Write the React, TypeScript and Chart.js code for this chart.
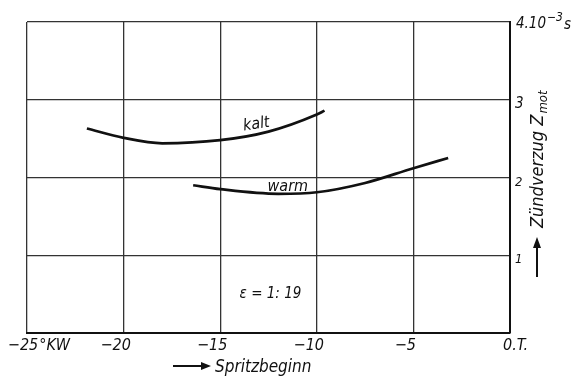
import React, { useEffect, useRef } from "react";
import { Chart, registerables } from "chart.js";

Chart.register(...registerables);

// Injection timing (°KW before TDC) and ignition delay (10^-3 s)
const kaltX = [-21.9, -20, -18, -15, -12.5, -10, -9.6];
const kaltY = [2.63, 2.51, 2.44, 2.48, 2.59, 2.81, 2.86];
const warmX = [-16.4, -15, -12, -10, -7.5, -5, -3.2];
const warmY = [1.9, 1.85, 1.79, 1.81, 1.93, 2.12, 2.25];

const xTicks = [-25, -20, -15, -10, -5, 0];
const yTicks = [1, 2, 3, 4];
const xTickLabels = ["−25", "−20", "−15", "−10", "−5", "0.T."];
const yTickLabels = ["1", "2", "3", "4.10"];

const curveLabels = [
  { text: "kalt", x: -13.1, y: 2.63, angle: -8 },
  { text: "warm", x: -11.5, y: 1.82, angle: 0 },
];

const FONT = '"DejaVu Sans Condensed", "Liberation Sans Narrow", sans-serif';

const textPlugin = {
  id: "annotations",
  afterDraw(chart: any) {
    const ctx = chart.ctx as CanvasRenderingContext2D;
    const xs = chart.scales.x;
    const ys = chart.scales.y;
    ctx.save();
    ctx.fillStyle = "#111";
    ctx.textBaseline = "alphabetic";

    // x tick labels
    ctx.font = `italic 16px ${FONT}`;
    xTicks.forEach((v, i) => {
      const px = xs.getPixelForValue(v);
      const base = ys.bottom + 17;
      if (i === 0) {
        ctx.textAlign = "center";
        ctx.fillText(xTickLabels[i], px - 4, base);
        const w = ctx.measureText(xTickLabels[i]).width;
        ctx.textAlign = "left";
        ctx.fillText("°KW", px - 4 + w / 2 + 1, base);
      } else if (i === xTicks.length - 1) {
        ctx.textAlign = "left";
        ctx.fillText(xTickLabels[i], px - 7, base);
      } else {
        ctx.textAlign = "center";
        ctx.fillText(xTickLabels[i], px - 8, base);
      }
    });

    // y tick labels on the right axis
    const rx = xs.right + 5;
    yTicks.forEach((v, i) => {
      const py = ys.getPixelForValue(v);
      ctx.textAlign = "left";
      if (i === yTicks.length - 1) {
        ctx.font = `italic 15px ${FONT}`;
        ctx.fillText(yTickLabels[i], rx + 1, py + 6);
        const w = ctx.measureText(yTickLabels[i]).width;
        ctx.font = `italic 12px ${FONT}`;
        ctx.fillText("−3", rx + 1 + w + 1, py - 1);
        const w2 = ctx.measureText("−3").width;
        ctx.font = `italic 15px ${FONT}`;
        ctx.fillText("s", rx + 1 + w + w2 + 2, py + 7);
      } else {
        ctx.font = `italic ${i === 2 ? 15 : 13}px ${FONT}`;
        ctx.fillText(yTickLabels[i], rx, py + 8);
      }
    });

    // curve names
    ctx.font = `italic 16px ${FONT}`;
    ctx.textAlign = "center";
    curveLabels.forEach((l) => {
      ctx.save();
      ctx.translate(xs.getPixelForValue(l.x), ys.getPixelForValue(l.y));
      ctx.rotate((l.angle * Math.PI) / 180);
      ctx.fillText(l.text, 0, 0);
      ctx.restore();
    });

    // compression ratio note
    ctx.font = `italic 15px ${FONT}`;
    ctx.fillText("ε = 1: 19", xs.getPixelForValue(-12.4), ys.getPixelForValue(0.45));

    // x axis title with arrow
    const tx = 215;
    const ty = 372;
    ctx.font = `italic 17px ${FONT}`;
    ctx.textAlign = "left";
    ctx.fillText("Spritzbeginn", tx, ty);
    ctx.lineWidth = 2;
    ctx.strokeStyle = "#111";
    ctx.beginPath();
    ctx.moveTo(173, ty - 6);
    ctx.lineTo(204, ty - 6);
    ctx.stroke();
    ctx.beginPath();
    ctx.moveTo(211, ty - 6);
    ctx.lineTo(201, ty - 10);
    ctx.lineTo(201, ty - 2);
    ctx.closePath();
    ctx.fill();

    // y axis title, reading upward, with arrow
    const ax = 537;
    ctx.save();
    ctx.translate(ax + 6, 228);
    ctx.rotate(-Math.PI / 2);
    ctx.textAlign = "left";
    ctx.font = `italic 18px ${FONT}`;
    ctx.fillText("Zündverzug Z", 0, 0);
    const zw = ctx.measureText("Zündverzug Z").width;
    ctx.font = `italic 13px ${FONT}`;
    ctx.fillText("mot", zw + 1, 4);
    ctx.restore();

    ctx.beginPath();
    ctx.moveTo(ax, 277);
    ctx.lineTo(ax, 246);
    ctx.stroke();
    ctx.beginPath();
    ctx.moveTo(ax, 237);
    ctx.lineTo(ax - 4, 248);
    ctx.lineTo(ax + 4, 248);
    ctx.closePath();
    ctx.fill();

    ctx.restore();
  },
};

export default function App() {
  const ref = useRef<HTMLCanvasElement>(null);

  useEffect(() => {
    if (!ref.current) return;
    const line = (xs: number[], ys: number[]) =>
      xs.map((x, i) => ({ x, y: ys[i] }));
    const chart = new Chart(ref.current, {
      type: "line",
      data: {
        datasets: [
          {
            label: "kalt",
            data: line(kaltX, kaltY),
            borderColor: "#111",
            borderWidth: 2.7,
            pointRadius: 0,
            cubicInterpolationMode: "monotone",
          },
          {
            label: "warm",
            data: line(warmX, warmY),
            borderColor: "#111",
            borderWidth: 2.7,
            pointRadius: 0,
            cubicInterpolationMode: "monotone",
          },
        ],
      },
      options: {
        responsive: false,
        animation: false,
        layout: { padding: { left: 27, right: 62, top: 22, bottom: 44 } },
        plugins: {
          legend: { display: false },
          tooltip: { enabled: false },
        },
        scales: {
          x: {
            type: "linear",
            min: -25,
            max: 0,
            afterBuildTicks: (s: any) => {
              s.ticks = xTicks.map((v) => ({ value: v }));
            },
            ticks: { display: false },
            grid: { color: "#333", lineWidth: 1.3, drawTicks: false },
            border: { display: true, color: "#111", width: 2 },
          },
          y: {
            type: "linear",
            position: "right",
            min: 0,
            max: 4,
            afterBuildTicks: (s: any) => {
              s.ticks = [0, ...yTicks].map((v) => ({ value: v }));
            },
            ticks: { display: false },
            grid: { color: "#333", lineWidth: 1.3, drawTicks: false },
            border: { display: true, color: "#111", width: 2 },
          },
        },
      },
      plugins: [textPlugin],
    });
    return () => chart.destroy();
  }, []);

  return (
    <div style={{ position: "fixed", left: 0, top: 0, width: 572, height: 377, background: "#fff" }}>
      <canvas ref={ref} width={572} height={377} />
    </div>
  );
}
